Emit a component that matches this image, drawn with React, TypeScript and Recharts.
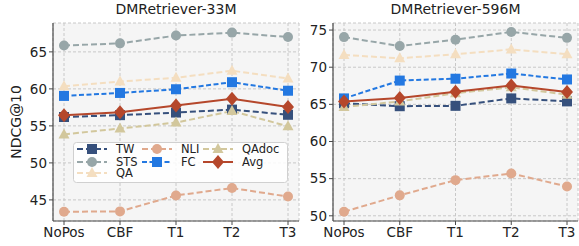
import React from 'react';
import { LineChart, Line, XAxis, YAxis, CartesianGrid } from 'recharts';

const categories = ['NoPos', 'CBF', 'T1', 'T2', 'T3'];

const tw33 = [56.2, 56.45, 56.8, 57.2, 56.5];
const sts33 = [65.85, 66.15, 67.2, 67.6, 67.0];
const qa33 = [60.35, 61.0, 61.5, 62.45, 61.4];
const nli33 = [43.4, 43.45, 45.6, 46.6, 45.45];
const fc33 = [59.05, 59.45, 59.95, 60.9, 59.75];
const qadoc33 = [53.85, 54.65, 55.45, 57.0, 54.95];
const avg33 = [56.45, 56.85, 57.75, 58.65, 57.55];

const tw596 = [65.15, 64.75, 64.8, 65.8, 65.4];
const sts596 = [74.05, 72.85, 73.7, 74.75, 73.95];
const qa596 = [71.65, 71.2, 71.75, 72.4, 71.75];
const nli596 = [50.55, 52.75, 54.8, 55.7, 53.95];
const fc596 = [65.8, 68.2, 68.45, 69.15, 68.35];
const qadoc596 = [64.65, 65.4, 66.5, 67.3, 66.3];
const avg596 = [65.4, 65.85, 66.7, 67.55, 66.65];

const ticks33 = [45, 50, 55, 60, 65];
const ticks596 = [50, 55, 60, 65, 70, 75];

type Shape = 'square' | 'circle' | 'triangle' | 'diamond';
interface SeriesDef { key: string; name: string; color: string; shape: Shape; dash?: string }

const seriesDefs: SeriesDef[] = [
  { key: 'TW', name: 'TW', color: '#36507c', shape: 'square', dash: '6 3' },
  { key: 'STS', name: 'STS', color: '#97a6a8', shape: 'circle', dash: '6 3' },
  { key: 'QA', name: 'QA', color: '#f4dec0', shape: 'triangle', dash: '6 3' },
  { key: 'NLI', name: 'NLI', color: '#e0a98d', shape: 'circle', dash: '6 3' },
  { key: 'FC', name: 'FC', color: '#2378e1', shape: 'square', dash: '5 2.5' },
  { key: 'QAdoc', name: 'QAdoc', color: '#d2c79c', shape: 'triangle', dash: '6 3' },
  { key: 'Avg', name: 'Avg', color: '#b5472b', shape: 'diamond' },
];

function build(tw: number[], sts: number[], qa: number[], nli: number[], fc: number[], qadoc: number[], avg: number[]) {
  return categories.map((c, i) => ({
    name: c, TW: tw[i], STS: sts[i], QA: qa[i], NLI: nli[i], FC: fc[i], QAdoc: qadoc[i], Avg: avg[i],
  }));
}

const data33 = build(tw33, sts33, qa33, nli33, fc33, qadoc33, avg33);
const data596 = build(tw596, sts596, qa596, nli596, fc596, qadoc596, avg596);

function Marker({ cx, cy, shape, color }: { cx: number; cy: number; shape: Shape; color: string }) {
  if (shape === 'square') return <rect x={cx - 5} y={cy - 5} width={10} height={10} fill={color} />;
  if (shape === 'circle') return <circle cx={cx} cy={cy} r={5} fill={color} />;
  if (shape === 'triangle') return <polygon points={`${cx},${cy - 6} ${cx + 5.5},${cy + 4} ${cx - 5.5},${cy + 4}`} fill={color} />;
  return <polygon points={`${cx},${cy - 7} ${cx + 6},${cy} ${cx},${cy + 7} ${cx - 6},${cy}`} fill={color} />;
}

const FONT = '"DejaVu Sans", sans-serif';
const FRAME = '#4a4a4a';

function LegendBox() {
  const cols = [
    [seriesDefs[0], seriesDefs[1], seriesDefs[2]],
    [seriesDefs[3], seriesDefs[4]],
    [seriesDefs[5], seriesDefs[6]],
  ];
  const colX = [4, 69, 130];
  const rowY = [7, 20, 31];
  return (
    <svg width={215} height={41} style={{ display: 'block' }}>
      <rect x={0.5} y={0.5} width={214} height={40} rx={3} fill="rgba(255,255,255,0.85)" stroke="#d0d0d0" />
      {cols.map((col, ci) =>
        col.map((s, ri) => {
          const x0 = colX[ci];
          const y = rowY[ri];
          return (
            <g key={s.key}>
              <line x1={x0} x2={x0 + 30} y1={y} y2={y} stroke={s.color} strokeWidth={2} strokeDasharray={s.dash} />
              <Marker cx={x0 + 15} cy={y} shape={s.shape} color={s.color} />
              <text x={x0 + 39} y={y + 4} fontSize={11.5} fontFamily={FONT} fill="#222">{s.name}</text>
            </g>
          );
        })
      )}
    </svg>
  );
}

function Panel({ data, domain, ticks, yWidth, width, left, title, showLabel, showLegend }: any) {
  return (
    <div style={{ position: 'absolute', left, top: 0, width, height: 246 }}>
      <div style={{ position: 'absolute', left: yWidth, width: width - yWidth - 1, top: 1, textAlign: 'center', fontFamily: FONT, fontSize: 14, color: '#222', whiteSpace: 'nowrap' }}>{title}</div>
      <LineChart width={width} height={246} data={data} margin={{ top: 23, right: 1, left: 0, bottom: 0 }}>
        <CartesianGrid fill="#f5f5f5" stroke="#c8c8c8" strokeDasharray="3 2" yAxisId="0" />
        <XAxis dataKey="name" interval={0} padding={{ left: 11, right: 11 }} height={25} tick={{ fontSize: 13.5, fill: '#222', fontFamily: FONT }} tickLine={{ stroke: FRAME }} tickSize={4} axisLine={{ stroke: FRAME, strokeWidth: 1.2 }} />
        <XAxis xAxisId="top" orientation="top" dataKey="name" height={0} tick={false} tickLine={false} axisLine={{ stroke: FRAME, strokeWidth: 1.2 }} padding={{ left: 11, right: 11 }} />
        <YAxis yAxisId="0" type="number" domain={domain} allowDataOverflow ticks={ticks} width={yWidth} tick={{ fontSize: 13.5, fill: '#222', fontFamily: FONT }} tickLine={{ stroke: FRAME }} tickSize={4} axisLine={{ stroke: FRAME, strokeWidth: 1.2 }}
          label={showLabel ? { value: 'NDCG@10', angle: -90, position: 'center', dx: -10, style: { fontSize: 14, fontFamily: FONT, fill: '#222' } } : undefined} />
        <YAxis yAxisId="r" orientation="right" type="number" domain={domain} allowDataOverflow width={0} tick={false} tickLine={false} axisLine={{ stroke: FRAME, strokeWidth: 1.2 }} />
        {seriesDefs.map((s) => (
          <Line key={s.key} yAxisId="0" type="linear" dataKey={s.key} name={s.name} stroke={s.color} strokeWidth={2} strokeDasharray={s.dash}
            isAnimationActive={false}
            dot={(p: any) => <Marker key={`${s.key}-${p.index}`} cx={p.cx} cy={p.cy} shape={s.shape} color={s.color} />}
            activeDot={false} />
        ))}
      </LineChart>
      {showLegend && (
        <div style={{ position: 'absolute', left: 73, top: 142 }}>
          <LegendBox />
        </div>
      )}
    </div>
  );
}

export default function App() {
  return (
    <div style={{ position: 'absolute', left: 0, top: 0, width: 579, height: 246, background: '#fff' }}>
      <Panel data={data33} domain={[42.15, 68.9]} ticks={ticks33} yWidth={53} width={300} left={0} title="DMRetriever-33M" showLabel showLegend />
      <Panel data={data596} domain={[49.3, 75.95]} ticks={ticks596} yWidth={43} width={289} left={290} title="DMRetriever-596M" />
    </div>
  );
}
